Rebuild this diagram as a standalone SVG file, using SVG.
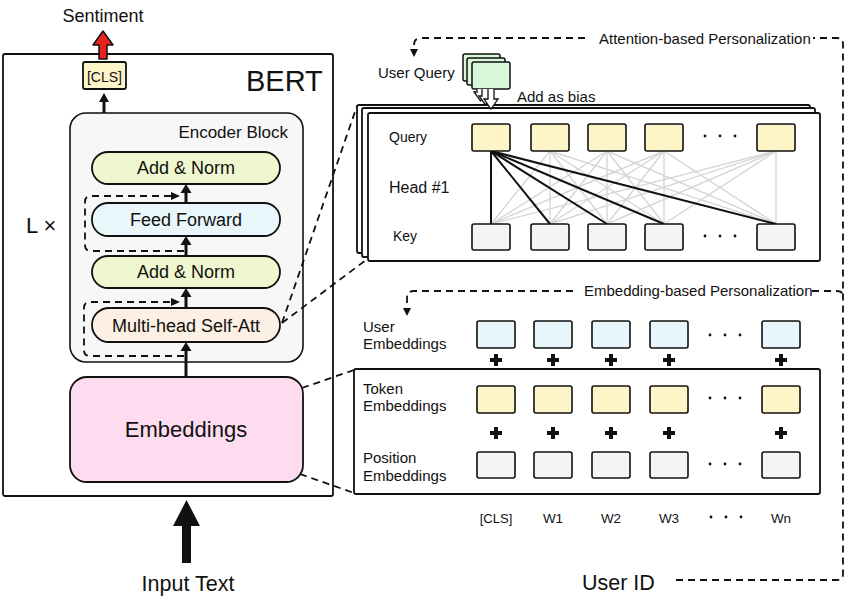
<svg xmlns="http://www.w3.org/2000/svg" width="850" height="608" viewBox="0 0 850 608">
<style>
text{font-family:"Liberation Sans",Arial,sans-serif;fill:#111}
.box{stroke:#111;stroke-width:1.8}
.dash{fill:none;stroke:#111;stroke-width:1.8;stroke-dasharray:7 5}
.q{fill:#fdf4c8;stroke:#111;stroke-width:1.6}
.k{fill:#f4f4f4;stroke:#111;stroke-width:1.6}
.u{fill:#e6f6fb;stroke:#111;stroke-width:1.6}
.g{stroke:#d3d7d7;stroke-width:1.4}
.b{stroke:#111;stroke-width:2}
.main{stroke:#111;stroke-width:3}
.t15{font-size:15px}
.t14{font-size:14px}
</style>
<defs>
<path id="plus" d="M-2,-6H2V-2H6V2H2V6H-2V2H-6V-2H-2Z" fill="#111"/>
<g id="dots3"><circle cx="0" cy="0" r="1.4" fill="#111"/><circle cx="15" cy="0" r="1.4" fill="#111"/><circle cx="30" cy="0" r="1.4" fill="#111"/></g>
</defs>
<rect width="850" height="608" fill="#fff"/>

<!-- BERT -->
<g id="bert">
<rect x="3" y="54" width="330" height="442" fill="#fff" class="box" rx="2"/>
<text x="246" y="91" style="font-size:29px">BERT</text>
<text x="26" y="233" style="font-size:22px">L ×</text>
</g>
<g id="sentiment">
<text x="103" y="22" text-anchor="middle" style="font-size:18px">Sentiment</text>
<path d="M99,59 V45 H93 L103,31 L113,45 H107 V59 Z" fill="#e8231f" stroke="#111" stroke-width="1.5" stroke-linejoin="round"/>
</g>
<g id="cls">
<rect x="83" y="62" width="43" height="27" rx="2" fill="#fdf4c8" class="box"/>
<text x="104.5" y="82" text-anchor="middle" style="font-size:14px">[CLS]</text>
</g>
<g id="encoder">
<rect x="70" y="113" width="233" height="249" rx="16" fill="#f7f7f7" stroke="#111" stroke-width="1.6"/>
<text x="288" y="138" text-anchor="end" style="font-size:17px">Encoder Block</text>
</g>
<g id="addnorm1">
<rect x="92" y="152" width="188" height="32" rx="16" fill="#eef7cf" class="box"/>
<text x="186" y="174" text-anchor="middle" style="font-size:18px">Add &amp; Norm</text>
</g>
<g id="feedforward">
<rect x="92" y="203" width="188" height="33" rx="16" fill="#e9f7fb" class="box"/>
<text x="186" y="226" text-anchor="middle" style="font-size:18px">Feed Forward</text>
</g>
<g id="addnorm2">
<rect x="92" y="256" width="188" height="32" rx="16" fill="#eef7cf" class="box"/>
<text x="186" y="278" text-anchor="middle" style="font-size:18px">Add &amp; Norm</text>
</g>
<g id="mhsa">
<rect x="92" y="308" width="188" height="34" rx="17" fill="#fcefe3" class="box"/>
<text x="186" y="332" text-anchor="middle" style="font-size:18px">Multi-head Self-Att</text>
</g>
<g id="embeddings">
<rect x="70" y="377" width="233" height="105" rx="17" fill="#fddcef" class="box"/>
<text x="186" y="437" text-anchor="middle" style="font-size:22px">Embeddings</text>
</g>
<g id="input">
<path d="M182,563 V526 H173 L186.5,500 L200,526 H191 V563 Z" fill="#111"/>
<text x="188" y="591" text-anchor="middle" style="font-size:21.5px">Input Text</text>
</g>

<!-- Attention panel -->
<g id="attention">
<rect x="357" y="105" width="453" height="148" rx="2" fill="#fff" class="box"/>
<rect x="362" y="108" width="453" height="149" rx="2" fill="#fff" class="box"/>
<rect x="368" y="113" width="452" height="148" rx="2" fill="#fff" class="box"/>
<text x="389" y="142" class="t14">Query</text>
<text x="389" y="193" style="font-size:16px">Head #1</text>
<text x="393" y="241" class="t14">Key</text>
<g>
<line class="g" x1="550" y1="151" x2="491" y2="224"/><line class="g" x1="550" y1="151" x2="550" y2="224"/><line class="g" x1="550" y1="151" x2="607" y2="224"/><line class="g" x1="550" y1="151" x2="664" y2="224"/><line class="g" x1="550" y1="151" x2="776" y2="224"/>
<line class="g" x1="607" y1="151" x2="491" y2="224"/><line class="g" x1="607" y1="151" x2="550" y2="224"/><line class="g" x1="607" y1="151" x2="607" y2="224"/><line class="g" x1="607" y1="151" x2="664" y2="224"/><line class="g" x1="607" y1="151" x2="776" y2="224"/>
<line class="g" x1="664" y1="151" x2="491" y2="224"/><line class="g" x1="664" y1="151" x2="550" y2="224"/><line class="g" x1="664" y1="151" x2="607" y2="224"/><line class="g" x1="664" y1="151" x2="664" y2="224"/><line class="g" x1="664" y1="151" x2="776" y2="224"/>
<line class="g" x1="776" y1="151" x2="491" y2="224"/><line class="g" x1="776" y1="151" x2="550" y2="224"/><line class="g" x1="776" y1="151" x2="607" y2="224"/><line class="g" x1="776" y1="151" x2="664" y2="224"/><line class="g" x1="776" y1="151" x2="776" y2="224"/>
<line class="b" x1="491" y1="151" x2="491" y2="224"/><line class="b" x1="491" y1="151" x2="550" y2="224"/><line class="b" x1="491" y1="151" x2="607" y2="224"/><line class="b" x1="491" y1="151" x2="664" y2="224"/><line class="b" x1="491" y1="151" x2="776" y2="224"/>
</g>
<rect class="q" x="472" y="124" width="38" height="27" rx="2"/>
<rect class="q" x="531" y="124" width="38" height="27" rx="2"/>
<rect class="q" x="588" y="124" width="38" height="27" rx="2"/>
<rect class="q" x="645" y="124" width="38" height="27" rx="2"/>
<rect class="q" x="757" y="124" width="38" height="27" rx="2"/>
<use href="#dots3" x="705" y="136"/>
<rect class="k" x="472" y="224" width="38" height="26" rx="2"/>
<rect class="k" x="531" y="224" width="38" height="26" rx="2"/>
<rect class="k" x="588" y="224" width="38" height="26" rx="2"/>
<rect class="k" x="645" y="224" width="38" height="26" rx="2"/>
<rect class="k" x="757" y="224" width="38" height="26" rx="2"/>
<use href="#dots3" x="705" y="236"/>
</g>

<!-- User query -->
<g id="userquery">
<text x="378" y="78" class="t15">User Query</text>
<rect x="463" y="54" width="37" height="27" rx="2" fill="#d9f7d9" stroke="#111" stroke-width="1.5"/>
<rect x="467" y="58" width="38" height="27" rx="2" fill="#d9f7d9" stroke="#111" stroke-width="1.5"/>
<rect x="472" y="62" width="38" height="27" rx="2" fill="#d9f7d9" stroke="#111" stroke-width="1.5"/>
<path d="M477,89 V92 H474 L480.5,101 L487,92 H484 V89" fill="#fff" stroke="#111" stroke-width="1.3"/>
<path d="M482,89 V96 H479 L485.5,105 L492,96 H489 V89" fill="#fff" stroke="#111" stroke-width="1.3"/>
<path d="M488,89 V99 H484 L491,109 L498,99 H494 V89" fill="#fff" stroke="#111" stroke-width="1.3"/>
<text x="517" y="102" class="t15">Add as bias</text>
</g>

<!-- Embedding panel -->
<g id="userembeddings">
<text x="363" y="332" class="t15">User</text>
<text x="363" y="349" class="t15">Embeddings</text>
<rect class="u" x="477" y="321" width="38" height="27" rx="2"/>
<rect class="u" x="534" y="321" width="38" height="27" rx="2"/>
<rect class="u" x="592" y="321" width="38" height="27" rx="2"/>
<rect class="u" x="650" y="321" width="38" height="27" rx="2"/>
<rect class="u" x="762" y="321" width="38" height="27" rx="2"/>
<use href="#dots3" x="710" y="335"/>
<use href="#plus" x="496" y="360"/><use href="#plus" x="553" y="360"/><use href="#plus" x="611" y="360"/><use href="#plus" x="669" y="360"/><use href="#plus" x="781" y="360"/>
</g>
<g id="tokenpanel">
<rect x="354" y="369" width="466" height="125" rx="2" fill="#fff" class="box"/>
<text x="363" y="394" class="t15">Token</text>
<text x="363" y="411" class="t15">Embeddings</text>
<rect class="q" x="477" y="386" width="38" height="27" rx="2"/>
<rect class="q" x="534" y="386" width="38" height="27" rx="2"/>
<rect class="q" x="592" y="386" width="38" height="27" rx="2"/>
<rect class="q" x="650" y="386" width="38" height="27" rx="2"/>
<rect class="q" x="762" y="386" width="38" height="27" rx="2"/>
<use href="#dots3" x="710" y="398"/>
<use href="#plus" x="496" y="433"/><use href="#plus" x="553" y="433"/><use href="#plus" x="611" y="433"/><use href="#plus" x="669" y="433"/><use href="#plus" x="781" y="433"/>
<text x="363" y="463" class="t15">Position</text>
<text x="363" y="481" class="t15">Embeddings</text>
<rect class="k" x="477" y="452" width="38" height="26" rx="2"/>
<rect class="k" x="534" y="452" width="38" height="26" rx="2"/>
<rect class="k" x="592" y="452" width="38" height="26" rx="2"/>
<rect class="k" x="650" y="452" width="38" height="26" rx="2"/>
<rect class="k" x="762" y="452" width="38" height="26" rx="2"/>
<use href="#dots3" x="710" y="464"/>
</g>
<g id="tokens" style="font-size:13.5px">
<text x="496" y="523" text-anchor="middle" style="font-size:13px">[CLS]</text>
<text x="553" y="523" text-anchor="middle">W1</text>
<text x="611" y="523" text-anchor="middle">W2</text>
<text x="669" y="523" text-anchor="middle">W3</text>
<use href="#dots3" x="711" y="517"/>
<text x="781" y="523" text-anchor="middle">Wn</text>
</g>
<g id="userid">
<text x="582" y="590" style="font-size:21.5px">User ID</text>
</g>
<g id="labels">
<text x="599" y="44" class="t15">Attention-based Personalization</text>
<text x="584" y="296" class="t15">Embedding-based Personalization</text>
</g>

<!-- connectors -->
<g id="connectors">
<line class="main" x1="186" y1="377" x2="186" y2="349"/>
<path d="M180.5,351 L191.5,351 L186,342 Z" fill="#111"/>
<line class="main" x1="186" y1="308" x2="186" y2="295"/>
<path d="M180.5,297 L191.5,297 L186,288 Z" fill="#111"/>
<line class="main" x1="186" y1="256" x2="186" y2="243"/>
<path d="M180.5,245 L191.5,245 L186,236 Z" fill="#111"/>
<line class="main" x1="186" y1="203" x2="186" y2="191"/>
<path d="M180.5,193 L191.5,193 L186,184 Z" fill="#111"/>
<line class="main" x1="104" y1="113" x2="104" y2="100"/>
<path d="M99,102 L109,102 L104,93 Z" fill="#111"/>

<path class="dash" d="M184,251 H91 Q85,251 85,245 V202 Q85,196 91,196 H172"/>
<path d="M171,192 L180,196 L171,200 Z" fill="#111"/>
<path class="dash" d="M184,356 H90 Q84,356 84,350 V308 Q84,302 90,302 H172"/>
<path d="M171,298 L180,302 L171,306 Z" fill="#111"/>

<path class="dash" d="M282,323 L357,106"/>
<path class="dash" d="M282,323 L366,260"/>
<path class="dash" d="M302,388 L354,370"/>
<path class="dash" d="M300,474 L354,493"/>

<path class="dash" d="M676,580 H837 Q843,580 843,574 V44 Q843,38 837,38 H813"/>
<path class="dash" d="M585,38 H421 Q414,38 414,45 V49"/>
<path d="M410,49 L418,49 L414,57 Z" fill="#111"/>
<path class="dash" d="M812,291 H837 Q843,291 843,297"/>
<path class="dash" d="M573,291 H414 Q407,291 407,298 V308"/>
<path d="M403,308 L411,308 L407,316 Z" fill="#111"/>
</g>
</svg>
